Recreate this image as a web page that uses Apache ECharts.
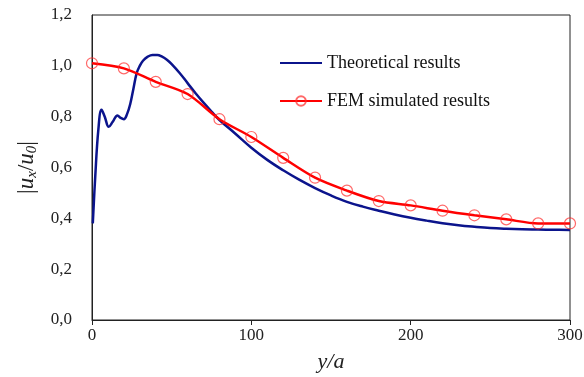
<!DOCTYPE html>
<html>
<head>
<meta charset="utf-8">
<script src="https://cdn.jsdelivr.net/npm/echarts@6/dist/echarts.min.js"></script>
<style>html,body{margin:0;padding:0;background:#fff}#c{width:584px;height:377px}</style>
</head>
<body>
<div id="c"></div>
<script>
const theoX = [0.5,2,4,6,8,10.5,13,16,18,20,22,24,26,28,30,32,35,38,41,44,47,50,55,60,65,70,75,80,90,100,110,120,130,140,150,160,170,180,190,200,210,220,230,240,250,260,270,280,290,300];
const theoY = [0.38,0.56,0.75,0.827,0.80,0.76,0.78,0.805,0.795,0.79,0.81,0.85,0.91,0.97,1.0,1.02,1.036,1.043,1.043,1.036,1.024,1.007,0.972,0.932,0.892,0.855,0.82,0.787,0.733,0.678,0.630,0.589,0.552,0.519,0.490,0.465,0.446,0.430,0.415,0.402,0.391,0.381,0.373,0.367,0.362,0.359,0.357,0.356,0.355,0.354];
const femX = [0,20,40,60,80,100,120,140,160,180,200,220,240,260,280,300];
const femY = [1.01,0.99,0.937,0.889,0.79,0.72,0.638,0.56,0.509,0.468,0.451,0.430,0.412,0.396,0.380,0.380];
const xTicks = [0,100,200,300];
const yTicks = [0,0.2,0.4,0.6,0.8,1.0,1.2];
const seriesNames = ['Theoretical results','FEM simulated results'];

const serif = '"Liberation Serif","Times New Roman",serif';
const chart = echarts.init(document.getElementById('c'));
chart.setOption({
  animation:false,
  backgroundColor:'#fff',
  grid:{left:92,right:14,top:15,bottom:57,containLabel:false,outerBoundsMode:'none',show:true,borderColor:'#222',borderWidth:1,backgroundColor:'transparent'},
  legend:{
    orient:'vertical',left:274,top:49,itemWidth:42,itemHeight:12,itemGap:20,
    data:[{name:seriesNames[0],itemStyle:{opacity:0}},{name:seriesNames[1]}],
    textStyle:{fontFamily:serif,fontSize:18,color:'#111'}
  },
  xAxis:{
    type:'value',min:xTicks[0],max:xTicks[xTicks.length-1],interval:100,
    axisLine:{lineStyle:{color:'#222'}},
    axisTick:{inside:false,length:5,lineStyle:{color:'#222'}},
    splitLine:{show:false},
    axisLabel:{fontFamily:serif,fontSize:17,color:'#222',margin:7},
    name:'{i|y}{n|/}{i|a}',nameLocation:'middle',nameGap:31,
    nameTextStyle:{rich:{i:{fontFamily:serif,fontStyle:'italic',fontSize:22,color:'#222'},n:{fontFamily:serif,fontStyle:'italic',fontSize:22,color:'#222'}}}
  },
  yAxis:{
    type:'value',min:yTicks[0],max:yTicks[yTicks.length-1],interval:0.2,
    axisLine:{show:true,lineStyle:{color:'#222'}},
    axisTick:{show:false},
    splitLine:{show:false},
    axisLabel:{fontFamily:serif,fontSize:17,color:'#222',margin:20,formatter:v=>v.toFixed(1).replace('.',',')},
    name:'{n||}{i|u}{s|x}{n|/}{i|u}{s|0}{n||}',nameLocation:'middle',nameGap:50,nameRotate:90,
    nameTextStyle:{rich:{
      i:{fontFamily:serif,fontStyle:'italic',fontSize:23,color:'#222'},
      n:{fontFamily:serif,fontSize:23,color:'#222'},
      s:{fontFamily:serif,fontStyle:'italic',fontSize:15,color:'#222',verticalAlign:'bottom',padding:[10,0,0,0]}
    }}
  },
  series:[
    {name:seriesNames[0],type:'line',smooth:0.4,symbol:'none',
     lineStyle:{color:'#0b148c',width:2.5},itemStyle:{color:'#0b148c'},
     data:theoX.map((x,i)=>[x,theoY[i]])},
    {name:seriesNames[1],type:'line',smooth:0.3,symbol:'circle',symbolSize:11,
     lineStyle:{color:'#ff0000',width:2.5},
     itemStyle:{color:'rgba(255,255,255,0)',borderColor:'rgba(255,40,40,0.7)',borderWidth:1.2},
     data:femX.map((x,i)=>[x,femY[i]])}
  ]
});
</script>
</body>
</html>
